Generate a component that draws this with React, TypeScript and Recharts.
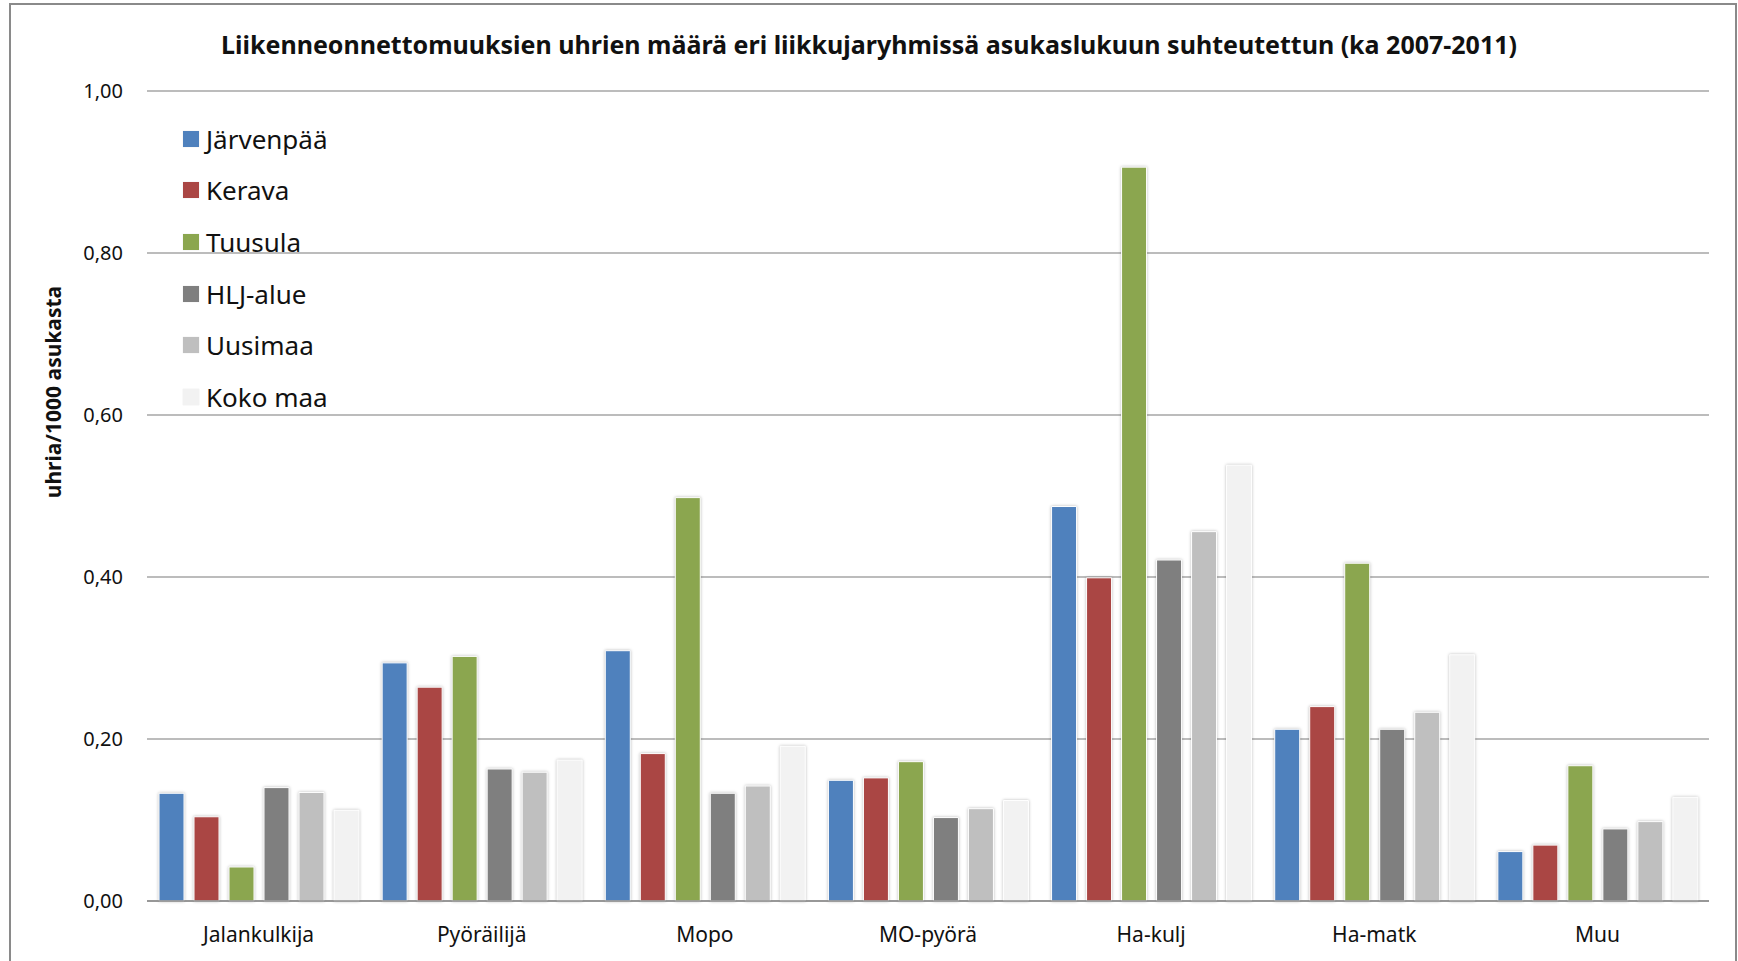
import React from 'react'
import { BarChart, Bar, XAxis, YAxis, CartesianGrid } from 'recharts'

const categories = ['Jalankulkija', 'Pyöräilijä', 'Mopo', 'MO-pyörä', 'Ha-kulj', 'Ha-matk', 'Muu']

const jarvenpaa = [0.133, 0.294, 0.309, 0.149, 0.487, 0.212, 0.061]
const kerava = [0.104, 0.264, 0.182, 0.152, 0.399, 0.24, 0.069]
const tuusula = [0.042, 0.302, 0.498, 0.172, 0.906, 0.417, 0.167]
const hljAlue = [0.14, 0.163, 0.133, 0.103, 0.421, 0.212, 0.089]
const uusimaa = [0.134, 0.159, 0.142, 0.114, 0.456, 0.233, 0.098]
const kokoMaa = [0.112, 0.174, 0.191, 0.124, 0.538, 0.304, 0.128]

const yTicks = [0, 0.2, 0.4, 0.6, 0.8, 1]

const series = [
  { key: 'Järvenpää', values: jarvenpaa, color: '#4F81BD' },
  { key: 'Kerava', values: kerava, color: '#AA4644' },
  { key: 'Tuusula', values: tuusula, color: '#8BA64F' },
  { key: 'HLJ-alue', values: hljAlue, color: '#7F7F7F' },
  { key: 'Uusimaa', values: uusimaa, color: '#BFBFBF' },
  { key: 'Koko maa', values: kokoMaa, color: '#F2F2F2' },
]

const data = categories.map((name, i) => {
  const row: Record<string, string | number> = { name }
  series.forEach((s) => {
    row[s.key] = s.values[i]
  })
  return row
})

const FONT = '"Noto Sans", "Open Sans", sans-serif'

function LegendBox() {
  return (
    <div style={{ position: 'absolute', left: 183, top: 113, fontFamily: FONT }}>
      {series.map((s) => (
        <div key={s.key} style={{ display: 'flex', alignItems: 'center', height: 51.6 }}>
          <span style={{ width: 16, height: 16, background: s.color, marginRight: 7, boxShadow: '0 0 1px rgba(0,0,0,0.15)' }} />
          <span style={{ fontSize: 26, color: '#111' }}>{s.key}</span>
        </div>
      ))}
    </div>
  )
}

export default function App() {
  return (
    <div style={{ position: 'absolute', left: 0, top: 0, width: 1738, height: 961, overflow: 'hidden', background: '#fff' }}>
      <div
        style={{
          position: 'absolute',
          left: 9,
          top: 3,
          width: 1724,
          height: 1000,
          border: '2px solid #8a8a8a',
        }}
      />
      <div
        style={{
          position: 'absolute',
          left: 0,
          top: 27,
          width: 1738,
          textAlign: 'center',
          fontFamily: FONT,
          fontWeight: 'bold',
          fontSize: 25,
          color: '#111',
        }}
      >
        Liikenneonnettomuuksien uhrien määrä eri liikkujaryhmissä asukaslukuun suhteutettun (ka 2007-2011)
      </div>
      <div
        style={{
          position: 'absolute',
          left: 53,
          top: 392,
          transform: 'translate(-50%, -50%) rotate(-90deg)',
          whiteSpace: 'nowrap',
          fontFamily: FONT,
          fontWeight: 'bold',
          fontSize: 21,
          color: '#111',
        }}
      >
        uhria/1000 asukasta
      </div>
      <div style={{ position: 'absolute', left: 0, top: 0 }}>
        <BarChart
          width={1738}
          height={961}
          data={data}
          margin={{ top: 91, right: 29, bottom: 10, left: 87 }}
          barSize={25}
          barGap={10}
        >
          <CartesianGrid vertical={false} stroke="#a6a6a6" strokeWidth={1.4} />
          <XAxis
            dataKey="name"
            height={50}
            tickLine={false}
            axisLine={{ stroke: '#8c8c8c', strokeWidth: 1.6 }}
            tickMargin={20}
            tick={{ fontFamily: FONT, fontSize: 21, fill: '#111' }}
            interval={0}
          />
          <YAxis
            width={60}
            domain={[0, 1]}
            ticks={yTicks}
            tickLine={false}
            axisLine={false}
            tickMargin={18}
            tick={{ fontFamily: FONT, fontSize: 20, fill: '#111' }}
            tickFormatter={(v: number) => v.toFixed(2).replace('.', ',')}
          />
          {series.map((s) => (
            <Bar
              key={s.key}
              dataKey={s.key}
              fill={s.color}
              stroke="#ffffff"
              strokeWidth={1}
              isAnimationActive={false}
              style={{ filter: 'drop-shadow(0px 0px 1.5px rgba(0,0,0,0.28))' }}
            />
          ))}
        </BarChart>
      </div>
      <LegendBox />
    </div>
  )
}
